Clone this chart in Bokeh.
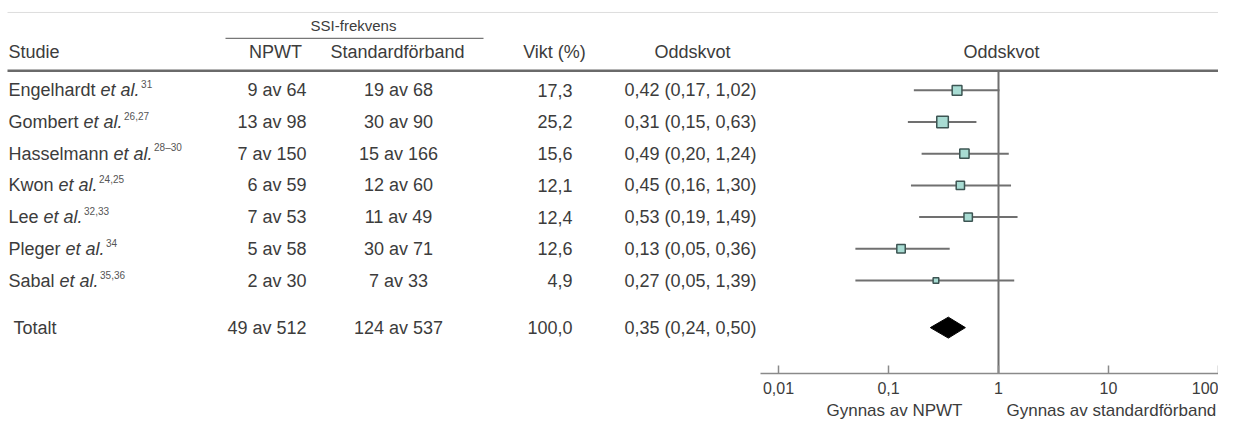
from bokeh.plotting import figure
from bokeh.models import (Range1d, LogScale, LogAxis, FixedTicker,
                          CustomJSTickFormatter, ColumnDataSource)
from bokeh.core.properties import value
from bokeh.embed import file_html
from bokeh.resources import INLINE

# ---------------- data ----------------
studies = ["Engelhardt", "Gombert", "Hasselmann", "Kwon", "Lee", "Pleger", "Sabal"]
refs = ["31", "26,27", "28–30", "24,25", "32,33", "34", "35,36"]
npwt = ["9 av 64", "13 av 98", "7 av 150", "6 av 59", "7 av 53", "5 av 58", "2 av 30"]
standard = ["19 av 68", "30 av 90", "15 av 166", "12 av 60", "11 av 49", "30 av 71", "7 av 33"]
weights = [17.3, 25.2, 15.6, 12.1, 12.4, 12.6, 4.9]
odds = [0.42, 0.31, 0.49, 0.45, 0.53, 0.13, 0.27]
ci_low = [0.17, 0.15, 0.20, 0.16, 0.19, 0.05, 0.05]
ci_high = [1.02, 0.63, 1.24, 1.30, 1.49, 0.36, 1.39]

total_label = "Totalt"
total_npwt = "49 av 512"
total_standard = "124 av 537"
total_weight = 100.0
total_or = 0.35
total_low = 0.24
total_high = 0.50

tick_values = [0.01, 0.1, 1, 10, 100]
footer_labels = ["Gynnas av NPWT", "Gynnas av standardförband"]
headers = ["Studie", "NPWT", "Standardförband", "Vikt (%)", "Oddskvot", "Oddskvot"]
group_header = "SSI-frekvens"

# ---------------- layout helpers ----------------
FONT = value("Liberation Sans")
TXT = "#3c3c3c"
FS = 18
W, H = 1218, 422
AXIS_Y = 374

ARIAL = {' ': 278, 'a': 556, 'b': 556, 'd': 556, 'e': 556, 'f': 278, 'g': 556, 'h': 556,
         'l': 222, 'm': 833, 'n': 556, 'o': 556, 'r': 333, 's': 500, 't': 278, 'v': 500,
         'w': 722, 'y': 500, 'ö': 556, '.': 278, 'E': 667, 'G': 778, 'H': 722, 'K': 667,
         'L': 556, 'N': 722, 'P': 667, 'S': 667, 'T': 611, 'W': 944}


def twidth(s, size):
    return sum(ARIAL.get(c, 556) for c in s) * size / 1000.0


def fmt(v, d):
    return f"{v:.{d}f}".replace(".", ",")


row_y = [90 + 31.8 * i for i in range(len(studies))]
total_y = 328

p = figure(width=W, height=H, x_range=Range1d(0, W), y_range=Range1d(AXIS_Y, 0),
           output_backend="svg", toolbar_location=None,
           x_axis_type=None, y_axis_type=None,
           min_border_left=0, min_border_right=0, min_border_top=0,
           min_border_bottom=H - AXIS_Y)
p.grid.visible = False
p.outline_line_color = None
p.background_fill_color = "white"
p.border_fill_color = "white"

# log scale for the forest part: 1 -> x=998, 110 px per decade
X_ONE, DEC = 998.0, 110.0
lo_log = (0 - X_ONE) / DEC
hi_log = (W - X_ONE) / DEC
p.extra_x_ranges = {"or": Range1d(10 ** lo_log, 10 ** hi_log)}
p.extra_x_scales = {"or": LogScale()}


def px_to_or(x):
    return 10 ** ((x - X_ONE) / DEC)


# ---------------- header lines ----------------
p.segment(x0=[7], x1=[W], y0=[12], y1=[12], line_color="#dddddd", line_width=1)
p.segment(x0=[225], x1=[483], y0=[38], y1=[38], line_color="#777777", line_width=1.2)
p.segment(x0=[7], x1=[W], y0=[70.5], y1=[70.5], line_color="#6a6a6a", line_width=2.5)

# ---------------- header texts ----------------
p.text(x=[353], y=[25], text=[group_header], text_font=FONT, text_font_size="15px",
       text_color=TXT, text_align="center", text_baseline="middle")
hdr = ColumnDataSource(dict(
    x=[8, 275, 397, 554, 692, 1001],
    t=headers,
    a=["left", "center", "center", "center", "center", "center"]))
p.text(x="x", y=52, text="t", text_align="a", source=hdr, text_font=FONT,
       text_font_size=f"{FS}px", text_color=TXT, text_baseline="middle")

# ---------------- study rows ----------------
space_w = twidth(" ", FS)
etal_x = [8 + twidth(s, FS) + space_w for s in studies]
sup_x = [x + twidth("et al.", FS) + 1.5 for x in etal_x]

rows = ColumnDataSource(dict(
    y=row_y, name=studies, etal_x=etal_x, etal=["et al."] * len(studies),
    sup_x=sup_x, sup_y=[y - 6 for y in row_y], ref=refs,
    npwt=npwt, std=standard,
    w=[fmt(v, 1) for v in weights],
    ors=[f"{fmt(o, 2)} ({fmt(l, 2)}, {fmt(h, 2)})" for o, l, h in zip(odds, ci_low, ci_high)],
    odds=odds, lo=ci_low, hi=ci_high,
    size=[1 + 2.1 * (v ** 0.5) for v in weights],
))

common = dict(source=rows, text_font=FONT, text_font_size=f"{FS}px",
              text_color=TXT, text_baseline="middle")
p.text(x=8, y="y", text="name", text_align="left", **common)
p.text(x="etal_x", y="y", text="etal", text_align="left", text_font_style="italic", **common)
p.text(x="sup_x", y="sup_y", text="ref", source=rows, text_font=FONT, text_font_size="10px",
       text_color="#555555", text_baseline="middle", text_align="left")
p.text(x=306, y="y", text="npwt", text_align="right", **common)
p.text(x=398, y="y", text="std", text_align="center", **common)
p.text(x=572, y="y", text="w", text_align="right", **common)
p.text(x=624, y="y", text="ors", text_align="left", **common)

# total row
tot = ColumnDataSource(dict(
    x=[13, 306, 398, 572, 624],
    t=[total_label, total_npwt, total_standard, fmt(total_weight, 1),
       f"{fmt(total_or, 2)} ({fmt(total_low, 2)}, {fmt(total_high, 2)})"],
    a=["left", "right", "center", "right", "left"]))
p.text(x="x", y=total_y, text="t", text_align="a", source=tot, text_font=FONT,
       text_font_size=f"{FS}px", text_color=TXT, text_baseline="middle")

# ---------------- forest ----------------
p.segment(x0=[1], x1=[1], y0=[71], y1=[AXIS_Y], x_range_name="or",
          line_color="#6f6f6f", line_width=2)
p.segment(x0="lo", x1="hi", y0="y", y1="y", source=rows, x_range_name="or",
          line_color="#707070", line_width=2)
p.scatter(x="odds", y="y", size="size", marker="square", source=rows, x_range_name="or",
          fill_color="#a8dcd3", line_color="#3d5553", line_width=1.5)

dh = 10.5
p.patch(x=[total_low, total_or, total_high, total_or],
        y=[total_y, total_y - dh, total_y, total_y + dh],
        x_range_name="or", fill_color="black", line_color="black")

axis = LogAxis(x_range_name="or", ticker=FixedTicker(ticks=tick_values),
               formatter=CustomJSTickFormatter(code="return tick.toString().replace('.', ',')"),
               bounds=(px_to_or(760), 10 ** hi_log))
axis.major_tick_in = 8
axis.major_tick_out = 0
axis.minor_tick_in = 0
axis.minor_tick_out = 0
axis.axis_line_color = "#8a8a8a"
axis.axis_line_width = 1.5
axis.major_tick_line_color = "#8a8a8a"
axis.major_tick_line_width = 1.5
axis.major_label_text_font = "Liberation Sans"
axis.major_label_text_font_size = "16px"
axis.major_label_text_color = TXT
axis.major_label_standoff = 8
p.add_layout(axis, "below")

# footer captions as a second, line-less axis row
FFS = 17
c1 = 962 - twidth(footer_labels[0], FFS) / 2
c2 = 1006 + twidth(footer_labels[1], FFS) / 2
foot = LogAxis(x_range_name="or", ticker=FixedTicker(ticks=[px_to_or(c1), px_to_or(c2)]),
               formatter=CustomJSTickFormatter(
                   code=f"return tick < 1 ? {footer_labels[0]!r} : {footer_labels[1]!r};"))
foot.axis_line_color = None
foot.major_tick_line_color = None
foot.minor_tick_line_color = None
foot.major_tick_in = 0
foot.major_tick_out = 0
foot.major_label_text_font = "Liberation Sans"
foot.major_label_text_font_size = f"{FFS}px"
foot.major_label_text_color = TXT
foot.major_label_standoff = 4
p.add_layout(foot, "below")

open("out.html", "w").write(file_html(p, INLINE))
